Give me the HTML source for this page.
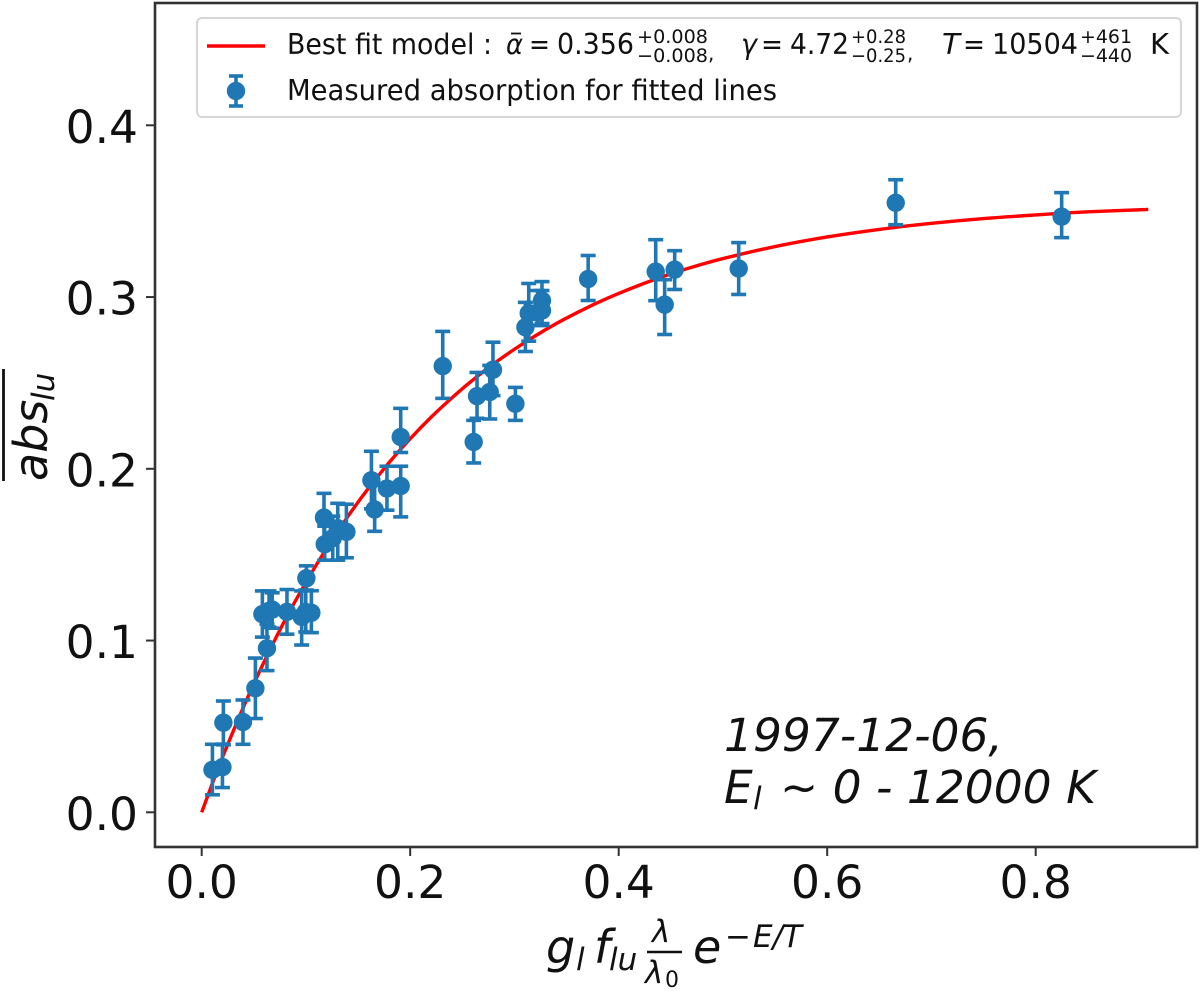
<!DOCTYPE html>
<html>
<head>
<meta charset="utf-8">
<title>Curve of growth fit</title>
<style>
html,body{margin:0;padding:0;background:#fff;}
svg{display:block;}
text{font-family:"DejaVu Sans","Liberation Sans",sans-serif;fill:#111;}
.it{font-style:italic;}
</style>
</head>
<body>
<svg id="chart" xmlns="http://www.w3.org/2000/svg" width="1200" height="991" viewBox="0 0 1200 991">
  <rect x="0" y="0" width="1200" height="991" fill="#fff"/>
  <g id="marks"></g>
  <rect x="155" y="3" width="1042" height="844" fill="none" stroke="#333" stroke-width="2.6"/>
  <g id="axes"></g>

  <g>
    <rect x="197" y="18" width="984" height="99" rx="5" fill="#fff" fill-opacity="0.85" stroke="#d6d6d6" stroke-width="2"/>
    <line x1="207" y1="46" x2="265" y2="46" stroke="#ff0000" stroke-width="3.4"/>
    <g>
      <text x="287" y="54" font-size="28.5" textLength="205" lengthAdjust="spacingAndGlyphs">Best fit model :</text>
      <text class="it" x="506" y="54" font-size="28.5" textLength="17" lengthAdjust="spacingAndGlyphs">α</text>
      <line x1="511" y1="33.5" x2="521" y2="33.5" stroke="#111" stroke-width="1.8"/>
      <text x="529" y="54" font-size="28.5" textLength="21" lengthAdjust="spacingAndGlyphs">=</text>
      <text x="557" y="54" font-size="28.5" textLength="77" lengthAdjust="spacingAndGlyphs">0.356</text>
      <text x="637" y="43" font-size="19" textLength="71" lengthAdjust="spacingAndGlyphs">+0.008</text>
      <text x="637" y="62" font-size="19" textLength="71" lengthAdjust="spacingAndGlyphs">−0.008</text>
      <text x="708" y="60" font-size="20">,</text>
      <text class="it" x="741" y="54" font-size="28.5" textLength="16" lengthAdjust="spacingAndGlyphs">γ</text>
      <text x="761" y="54" font-size="28.5" textLength="22" lengthAdjust="spacingAndGlyphs">=</text>
      <text x="790" y="54" font-size="28.5" textLength="59" lengthAdjust="spacingAndGlyphs">4.72</text>
      <text x="851" y="43" font-size="19" textLength="55" lengthAdjust="spacingAndGlyphs">+0.28</text>
      <text x="851" y="62" font-size="19" textLength="55" lengthAdjust="spacingAndGlyphs">−0.25</text>
      <text x="907" y="60" font-size="20">,</text>
      <text class="it" x="942" y="54" font-size="28.5" textLength="18" lengthAdjust="spacingAndGlyphs">T</text>
      <text x="963" y="54" font-size="28.5" textLength="22" lengthAdjust="spacingAndGlyphs">=</text>
      <text x="992" y="54" font-size="28.5" textLength="86" lengthAdjust="spacingAndGlyphs">10504</text>
      <text x="1080" y="43" font-size="19" textLength="52" lengthAdjust="spacingAndGlyphs">+461</text>
      <text x="1080" y="62" font-size="19" textLength="52" lengthAdjust="spacingAndGlyphs">−440</text>
      <text x="1150" y="54" font-size="28.5" textLength="19" lengthAdjust="spacingAndGlyphs">K</text>
    </g>
    <g stroke="#1f77b4" stroke-width="3.6">
      <line x1="236" y1="76" x2="236" y2="106"/>
      <line x1="229" y1="76" x2="243" y2="76"/>
      <line x1="229" y1="106" x2="243" y2="106"/>
      <circle cx="236" cy="91" r="9.2" fill="#1f77b4" stroke="none"/>
    </g>
    <text x="287" y="100" font-size="28.5" textLength="490" lengthAdjust="spacingAndGlyphs">Measured absorption for fitted lines</text>
  </g>

  <g>
    <text class="it" x="724" y="751" font-size="45.5">1997-12-06,</text>
    <text class="it" x="724" y="803" font-size="45.5">E</text>
    <text class="it" x="753" y="809" font-size="31">l</text>
    <text class="it" x="780" y="803" font-size="45.5">~ 0 - 12000 K</text>
  </g>

  <g>
    <text class="it" x="546" y="963" font-size="46">g</text>
    <text class="it" x="576" y="970" font-size="31">l</text>
    <text class="it" x="594" y="963" font-size="46">f</text>
    <text class="it" x="609" y="970" font-size="31">lu</text>
    <text class="it" x="652" y="942" font-size="31">λ</text>
    <line x1="647" y1="952" x2="682" y2="952" stroke="#111" stroke-width="2.4"/>
    <text class="it" x="645" y="983" font-size="31">λ</text>
    <text x="665" y="987" font-size="22">0</text>
    <text class="it" x="693" y="963" font-size="46">e</text>
    <text x="725" y="947" font-size="31">−</text>
    <text class="it" x="753" y="947" font-size="31">E/T</text>
  </g>

  <g transform="translate(47,481) rotate(-90)">
    <text class="it" x="0" y="0" font-size="46">abs</text>
    <text class="it" x="80" y="7" font-size="31">lu</text>
    <line x1="0" y1="-43.5" x2="112" y2="-43.5" stroke="#111" stroke-width="2.8"/>
  </g>
</svg>
<script>
const xTickLabels = ["0.0", "0.2", "0.4", "0.6", "0.8"];
const xTickValues = [0, 0.2, 0.4, 0.6, 0.8];
const yTickLabels = ["0.0", "0.1", "0.2", "0.3", "0.4"];
const yTickValues = [0, 0.1, 0.2, 0.3, 0.4];

const pointX = [0.0103,0.0199,0.0208,0.0396,0.0515,0.0626,0.0582,0.0646,0.0676,0.0818,0.0959,0.1004,0.0998,0.1052,0.1180,0.1173,0.1257,0.1305,0.1388,0.1628,0.1659,0.1777,0.1909,0.1909,0.2312,0.2609,0.2641,0.2763,0.2794,0.3009,0.3105,0.3137,0.3264,0.3223,0.3264,0.3707,0.4355,0.4441,0.4537,0.5151,0.6657,0.8249];
const pointY = [0.0247,0.0263,0.0522,0.0526,0.0722,0.0955,0.1154,0.1173,0.1180,0.1167,0.1138,0.1363,0.1166,0.1162,0.1561,0.1716,0.1596,0.1654,0.1633,0.1933,0.1763,0.1885,0.1900,0.2185,0.2598,0.2156,0.2423,0.2447,0.2577,0.2379,0.2824,0.2906,0.2922,0.2910,0.2980,0.3105,0.3148,0.2956,0.3160,0.3166,0.3549,0.3468];
const errorUp = [0.0149,0.0134,0.0126,0.0128,0.0176,0.0141,0.0135,0.0116,0.0098,0.0130,0.0151,0.0072,0.0128,0.0128,0.0105,0.0141,0.0128,0.0145,0.0161,0.0169,0.0147,0.0130,0.0115,0.0167,0.0202,0.0126,0.0138,0.0155,0.0160,0.0095,0.0145,0.0173,0.0116,0.0128,0.0110,0.0137,0.0186,0.0145,0.0110,0.0151,0.0134,0.0140];
const errorDown = [0.0145,0.0119,0.0129,0.0130,0.0176,0.0130,0.0134,0.0095,0.0108,0.0130,0.0164,0.0070,0.0116,0.0116,0.0093,0.0140,0.0128,0.0186,0.0151,0.0166,0.0127,0.0126,0.0180,0.0090,0.0188,0.0122,0.0129,0.0157,0.0151,0.0097,0.0141,0.0163,0.0087,0.0076,0.0134,0.0125,0.0169,0.0174,0.0116,0.0151,0.0128,0.0122];

const fitX = [0,0.01,0.02,0.04,0.06,0.08,0.10,0.12,0.14,0.16,0.18,0.20,0.22,0.24,0.26,0.28,0.30,0.32,0.34,0.36,0.38,0.40,0.425,0.45,0.475,0.50,0.55,0.60,0.65,0.70,0.75,0.80,0.85,0.908];
const fitY = [0,0.0164,0.0321,0.0612,0.0878,0.1120,0.1339,0.1539,0.1721,0.1887,0.2038,0.2175,0.2300,0.2413,0.2517,0.2611,0.2696,0.2774,0.2845,0.2909,0.2968,0.3021,0.3081,0.3135,0.3182,0.3224,0.3294,0.3350,0.3394,0.3429,0.3457,0.3478,0.3496,0.3510];

const SVG_NS = "http://www.w3.org/2000/svg";
function xScale(v) { return 201.7 + v * 1042.5; }
function yScale(v) { return 812.3 - v * 1717.5; }

function make(tag, attrs, parent) {
  const el = document.createElementNS(SVG_NS, tag);
  for (const k in attrs) el.setAttribute(k, attrs[k]);
  parent.appendChild(el);
  return el;
}

const marks = document.getElementById("marks");
const axes = document.getElementById("axes");

function smoothPath(xs, ys) {
  const px = xs.map(xScale);
  const py = ys.map(yScale);
  let d = "M" + px[0].toFixed(2) + " " + py[0].toFixed(2);
  for (let i = 0; i < px.length - 1; i++) {
    const a = Math.max(i - 1, 0);
    const b = Math.min(i + 2, px.length - 1);
    const c1x = px[i] + (px[i + 1] - px[a]) / 6;
    const c1y = py[i] + (py[i + 1] - py[a]) / 6;
    const c2x = px[i + 1] - (px[b] - px[i]) / 6;
    const c2y = py[i + 1] - (py[b] - py[i]) / 6;
    d += "C" + c1x.toFixed(2) + " " + c1y.toFixed(2) + " " + c2x.toFixed(2) + " " + c2y.toFixed(2) + " " + px[i + 1].toFixed(2) + " " + py[i + 1].toFixed(2);
  }
  return d;
}

const fitLine = make("path", { d: smoothPath(fitX, fitY), fill: "none", stroke: "#ff0000", "stroke-width": 3.4 }, marks);



pointX.forEach(function (v, i) {
  const g = make("g", { stroke: "#1f77b4", "stroke-width": 3.6 }, marks);
  
  
  const cx = xScale(v);
  const top = yScale(pointY[i] + errorUp[i]);
  const bottom = yScale(pointY[i] - errorDown[i]);
  make("line", { x1: cx, x2: cx, y1: top, y2: bottom }, g);
  make("line", { x1: cx - 7.5, x2: cx + 7.5, y1: top, y2: top }, g);
  make("line", { x1: cx - 7.5, x2: cx + 7.5, y1: bottom, y2: bottom }, g);
  make("circle", { cx: cx, cy: yScale(pointY[i]), r: 9.2, fill: "#1f77b4", stroke: "none" }, g);
});

xTickValues.forEach(function (v, i) {
  const px = xScale(v);
  const tick = make("line", { x1: px, x2: px, y1: 847, y2: 856, stroke: "#333", "stroke-width": 2 }, axes);
  
  
  const label = make("text", { x: px, y: 898, "font-size": 45.5, "text-anchor": "middle" }, axes);
  
  
  label.textContent = xTickLabels[i];
});

yTickValues.forEach(function (v, i) {
  const py = yScale(v);
  const tick = make("line", { x1: 146, x2: 155, y1: py, y2: py, stroke: "#333", "stroke-width": 2 }, axes);
  
  
  const label = make("text", { x: 138, y: py + 17.5, "font-size": 45.5, "text-anchor": "end" }, axes);
  
  
  label.textContent = yTickLabels[i];
});
</script>
</body>
</html>
